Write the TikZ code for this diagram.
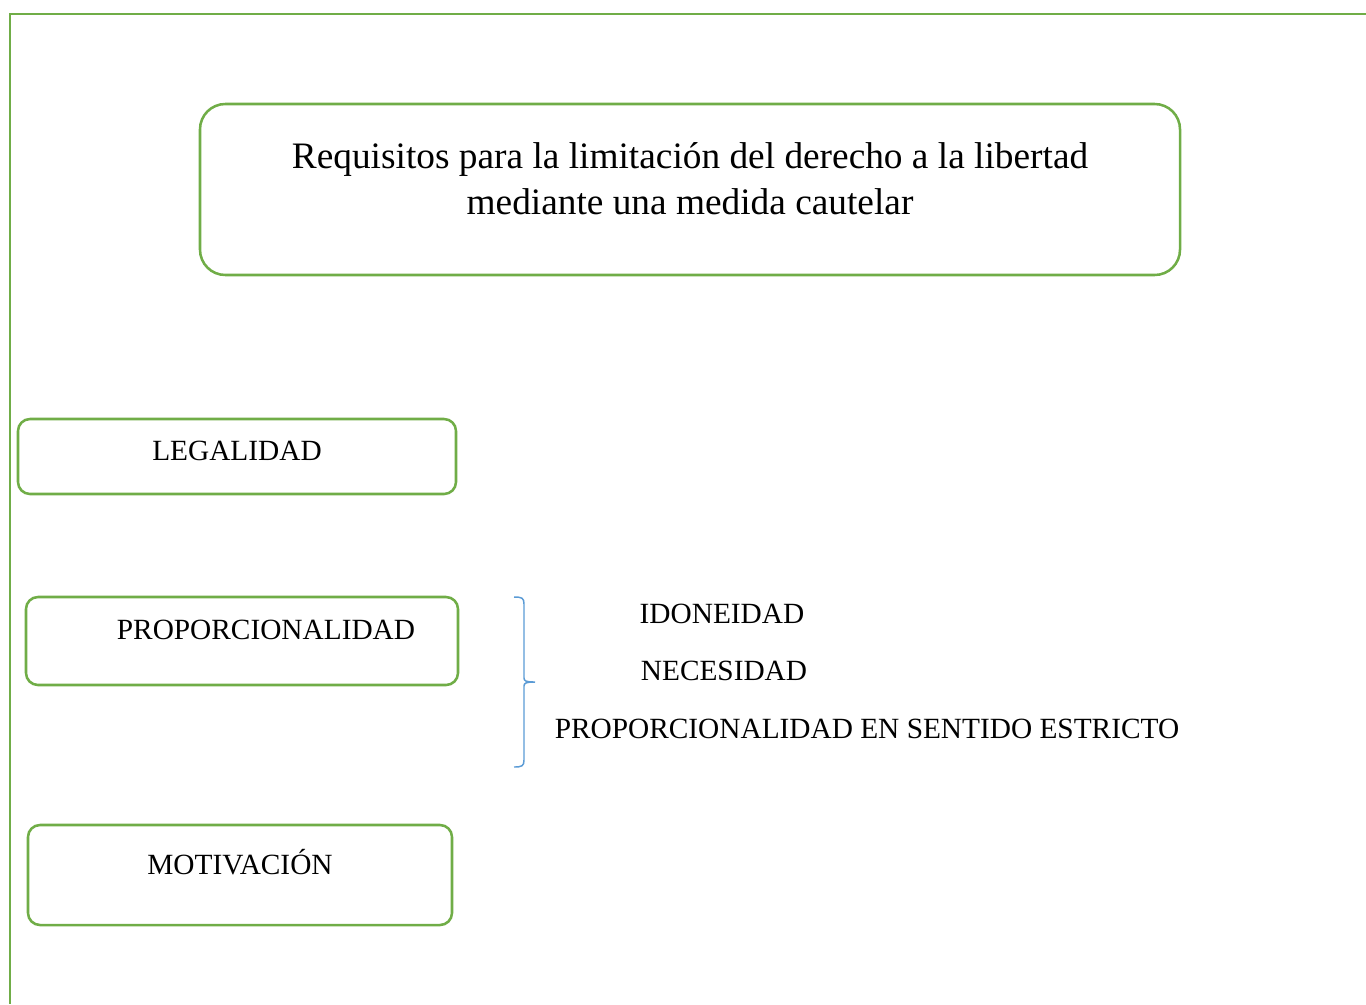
\documentclass[tikz,border=0pt]{standalone}
\usepackage{fontspec}
\setmainfont{Liberation Serif}
\usepackage{tikz}
\usetikzlibrary{positioning,shapes,calc}
\definecolor{leafgreen}{HTML}{70AD47}
\definecolor{braceblue}{HTML}{5B9BD5}

\tikzset{
  reqbox/.style={draw=leafgreen, line width=1.9pt, rounded corners=9pt, inner sep=0pt, outer sep=0pt},
  reqtext/.style={anchor=base, inner sep=0pt, font=\fontsize{22}{26}\selectfont},
}

\begin{document}
\begin{tikzpicture}[x=0.75pt, y=-0.75pt]
  \useasboundingbox (0,0) rectangle (1366,1004);
  \draw[leafgreen, line width=2pt] (1366,14) -- (10,14) -- (10,1004);

  \node[reqbox, rounded corners=19pt, minimum width=735pt, minimum height=128.25pt] (titlebox) at (690,189.5) {};
  \node[align=center, inner sep=0pt, font=\fontsize{28}{34.5}\selectfont] (title) at (690,179)
    {Requisitos para la limitación del derecho a la libertad\\mediante una medida cautelar};

  \node[reqbox, minimum width=328.5pt, minimum height=56.25pt] (legbox) at (237,456.5) {};
  \node[reqbox, minimum width=324pt, minimum height=66pt] (propbox) at (242,641) {};
  \node[reqbox, minimum width=318pt, minimum height=75pt] (motbox) at (240,875) {};
  \node[reqtext] (leg) at (237,460) {LEGALIDAD};
  \node[reqtext] (prop) at (266,639) {PROPORCIONALIDAD};
  \node[reqtext] (mot) at (240,874) {MOTIVACIÓN};

  % sub-requirements of proportionality
  \draw[braceblue, line width=1.1pt]
    (514,597) .. controls (522,597) and (524,598) .. (524,604) -- (524,678)
    .. controls (524,681) and (526,682) .. (535,682)
    .. controls (526,682) and (524,683) .. (524,686) -- (524,760)
    .. controls (524,766) and (522,767) .. (514,767);
  \node[reqtext] (ido) at (722,623) {IDONEIDAD};
  \node[reqtext] (nec) at (724,680) {NECESIDAD};
  \node[reqtext] (estr) at (867,738) {PROPORCIONALIDAD EN SENTIDO ESTRICTO};
\end{tikzpicture}
\end{document}
